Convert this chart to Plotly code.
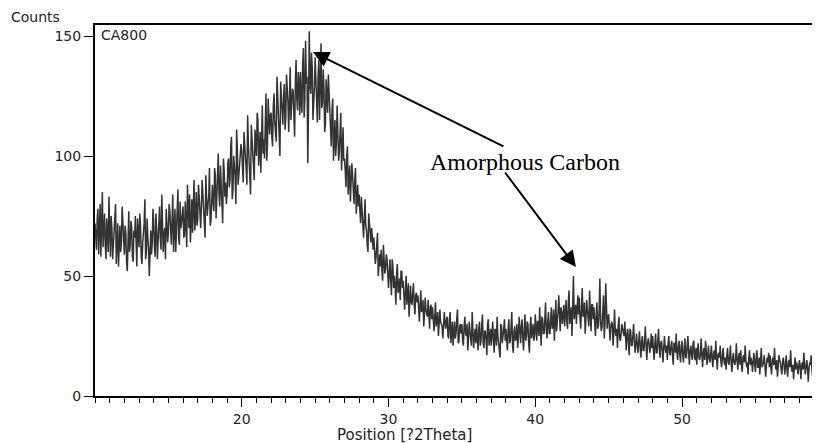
import plotly.graph_objects as go

# ---- data ----
# counts at 10.0, 10.1, 10.2, ... (step 0.1 deg)
x_start = 10.0
x_step = 0.1
counts = [
    72, 61, 78, 66, 58, 85, 70, 63, 74, 60,
    69, 75, 57, 66, 80, 62, 54, 71, 64, 73,
    59, 68, 52, 77, 63, 70, 56, 66, 61, 74,
    62, 71, 55, 68, 82, 60, 66, 50, 69, 64,
    73, 58, 70, 64, 79, 61, 75, 67, 57, 72,
    68, 77, 63, 84, 70, 60, 75, 66, 81, 72,
    79, 67, 73, 88, 70, 64, 82, 76, 69, 85,
    74, 83, 70, 90, 78, 66, 86, 80, 95, 73,
    88, 77, 92, 82, 101, 79, 86, 72, 94, 89,
    84, 99, 90, 108, 86, 95, 80, 103, 92, 98,
    102, 89, 106, 95, 117, 99, 84, 108, 97, 111,
    100, 115, 104, 93, 121, 107, 112, 98, 124, 109,
    118, 104, 126, 110, 133, 115, 100, 122, 113, 130,
    116, 129, 110, 137, 121, 127, 108, 140, 119, 131,
    135, 118, 145, 124, 130, 97, 152, 126, 137, 120,
    141, 125, 133, 115, 147, 122, 129, 113, 124, 134,
    118, 104, 124, 110, 100, 121, 98, 108, 94, 112,
    99, 87, 104, 93, 81, 97, 86, 90, 76, 88,
    84, 72, 78, 66, 82, 69, 60, 73, 64, 67,
    66, 55, 63, 50, 59, 61, 48, 56, 53, 57,
    45, 57, 42, 54, 50, 38, 55, 44, 40, 52,
    48, 36, 50, 41, 33, 46, 38, 47, 34, 43,
    42, 31, 44, 36, 29, 41, 33, 40, 28, 38,
    37, 27, 39, 31, 25, 36, 29, 24, 35, 28,
    33, 24, 35, 27, 21, 31, 26, 36, 23, 30,
    30, 21, 33, 25, 19, 31, 24, 35, 20, 28,
    30, 19, 31, 23, 34, 20, 27, 17, 32, 24,
    21, 31, 18, 27, 33, 22, 16, 29, 24, 32,
    28, 19, 32, 23, 35, 18, 29, 24, 20, 33,
    22, 32, 19, 34, 25, 30, 18, 33, 27, 23,
    34, 23, 31, 37, 21, 32, 26, 39, 24, 35,
    26, 37, 29, 23, 40, 30, 42, 27, 35, 38,
    29, 40, 28, 44, 33, 25, 50, 37, 30, 42,
    41, 28, 45, 34, 26, 40, 31, 44, 27, 38,
    37, 25, 39, 29, 49, 27, 35, 24, 47, 28,
    34, 23, 31, 21, 36, 25, 20, 33, 23, 30,
    27, 31, 19, 28, 17, 27, 21, 30, 18, 26,
    18, 27, 16, 25, 19, 29, 15, 24, 18, 26,
    25, 15, 26, 18, 28, 16, 23, 14, 25, 18,
    15, 25, 17, 23, 13, 22, 26, 15, 23, 14,
    23, 14, 24, 16, 25, 13, 21, 15, 23, 15,
    13, 22, 15, 24, 12, 20, 23, 13, 21, 14,
    21, 12, 19, 23, 11, 18, 21, 12, 20, 13,
    11, 20, 13, 21, 10, 18, 13, 22, 11, 18,
    19, 10, 17, 21, 12, 9, 19, 16, 10, 18,
    10, 19, 12, 9, 20, 13, 17, 8, 16, 18,
    17, 9, 16, 20, 11, 8, 17, 14, 9, 16,
    9, 17, 8, 15, 19, 10, 7, 16, 14, 9,
    15, 7, 14, 18, 9, 15, 6, 14, 17, 8,
    14, 17, 7, 15, 9,
]
# counts at 10.05, 10.15, 10.25, ... (the in-between readings)
counts_mid = [
    65, 74, 59, 80, 67, 62, 76, 57, 69, 83,
    58, 70, 63, 77, 55, 72, 66, 60, 79, 62,
    71, 56, 64, 60, 73, 58, 69, 75, 54, 67,
    76, 58, 64, 72, 57, 74, 61, 68, 59, 78,
    62, 76, 57, 71, 66, 84, 60, 70, 78, 64,
    80, 65, 73, 60, 78, 68, 86, 63, 70, 77,
    66, 81, 62, 75, 84, 72, 68, 90, 74, 71,
    88, 72, 79, 84, 70, 92, 75, 83, 71, 87,
    81, 95, 74, 90, 84, 96, 78, 99, 83, 80,
    97, 87, 104, 82, 100, 91, 111, 88, 96, 105,
    94, 110, 100, 88, 105, 93, 113, 102, 90, 104,
    118, 96, 110, 116, 101, 99, 126, 104, 114, 117,
    108, 121, 114, 106, 124, 109, 131, 117, 125, 111,
    134, 122, 126, 115, 128, 113, 130, 124, 135, 117,
    122, 138, 116, 148, 133, 121, 130, 143, 115, 129,
    130, 114, 140, 126, 120, 136, 110, 132, 118, 128,
    112, 119, 98, 115, 106, 111, 102, 118, 100, 98,
    94, 100, 84, 96, 88, 92, 80, 95, 84, 79,
    77, 83, 70, 74, 71, 63, 76, 67, 70, 61,
    61, 58, 68, 56, 54, 52, 63, 51, 59, 49,
    52, 48, 57, 45, 46, 51, 43, 49, 52, 45,
    42, 44, 38, 47, 40, 39, 43, 38, 42, 39,
    37, 38, 35, 40, 34, 36, 33, 35, 37, 32,
    32, 33, 29, 35, 30, 31, 29, 35, 30, 32,
    25, 32, 22, 31, 28, 24, 32, 22, 29, 26,
    23, 29, 26, 30, 24, 27, 21, 28, 25, 22,
    24, 28, 21, 29, 22, 27, 23, 30, 21, 28,
    27, 23, 28, 21, 25, 20, 30, 22, 28, 23,
    23, 28, 22, 29, 21, 27, 23, 30, 25, 28,
    29, 24, 28, 23, 31, 22, 29, 24, 30, 25,
    26, 31, 25, 29, 33, 26, 32, 27, 31, 26,
    32, 28, 36, 31, 27, 35, 29, 37, 30, 38,
    37, 31, 39, 30, 37, 40, 32, 38, 42, 34,
    32, 37, 33, 39, 32, 36, 29, 35, 38, 32,
    30, 34, 28, 35, 31, 29, 42, 30, 28, 33,
    28, 29, 30, 26, 27, 28, 29, 24, 26, 28,
    25, 22, 26, 22, 28, 21, 25, 23, 22, 21,
    23, 20, 23, 19, 23, 21, 22, 22, 20, 20,
    19, 22, 18, 23, 20, 22, 19, 20, 20, 21,
    22, 18, 21, 17, 22, 18, 18, 21, 17, 21,
    17, 20, 16, 21, 18, 19, 17, 22, 16, 20,
    19, 16, 17, 18, 18, 15, 19, 16, 16, 17,
    15, 18, 15, 16, 17, 16, 14, 17, 15, 16,
    17, 14, 17, 13, 16, 14, 15, 15, 16, 13,
    13, 16, 14, 15, 14, 16, 13, 14, 15, 13,
    16, 12, 16, 15, 12, 14, 13, 13, 14, 12,
    12, 15, 13, 13, 15, 12, 15, 11, 14, 13,
    13, 11, 14, 12, 12, 13, 12, 11, 13, 12,
    12, 13, 11, 13, 12, 12, 11, 13, 11, 12,
    10, 12, 11, 12,
]

positions, values = [], []
for i, c in enumerate(counts):
    positions.append(round(x_start + i * x_step, 3))
    values.append(c)
    if i < len(counts_mid):
        positions.append(round(x_start + i * x_step + x_step / 2, 3))
        values.append(counts_mid[i])

x_ticks = [20, 30, 40, 50]
y_ticks = [0, 50, 100, 150]
sample_label = "CA800"
note_text = "Amorphous Carbon"
peak1 = (24.85, 143.3)
peak2 = (42.77, 53.75)

axis_font = dict(family="DejaVu Sans", size=14, color="#222")

fig = go.Figure()
fig.add_trace(go.Scatter(
    x=positions, y=values, mode="lines",
    line=dict(color="#333333", width=1.5),
    showlegend=False, hoverinfo="skip",
))

# page body has an 8px margin, so the figure is shifted by 8px
fig.update_layout(
    width=820, height=443,
    margin=dict(l=87, r=8, t=17, b=55),
    paper_bgcolor="white", plot_bgcolor="white",
    xaxis=dict(
        range=[10.0, 59.4], tickvals=x_ticks, ticks="outside", ticklen=9,
        tickwidth=1, tickcolor="black", showline=True, linecolor="black",
        linewidth=2, mirror=True, showgrid=False, zeroline=False,
        tickfont=axis_font,
        minor=dict(dtick=1, ticks="outside", ticklen=5, tickcolor="black", showgrid=False),
    ),
    yaxis=dict(
        range=[0, 154.6], tickvals=y_ticks, ticks="outside", ticklen=9,
        tickwidth=1, tickcolor="black", showline=True, linecolor="black",
        linewidth=2, mirror=False, showgrid=False, zeroline=False,
        tickfont=axis_font,
    ),
)

fig.add_annotation(text="Counts", xref="paper", yref="paper", x=-0.118, y=1.0,
                   xanchor="left", yanchor="middle", showarrow=False,
                   font=dict(family="DejaVu Sans", size=14, color="#222"), yshift=8)
fig.add_annotation(text="Position [?2Theta]", xref="paper", yref="paper",
                   x=(404 - 95) / 725, y=0, xanchor="center", yanchor="top",
                   yshift=-28, showarrow=False,
                   font=dict(family="DejaVu Sans", size=15, color="#222"))
fig.add_annotation(text=sample_label, xref="paper", yref="paper", x=0.005, y=1.0,
                   xanchor="left", yanchor="top", showarrow=False, font=axis_font)
fig.add_annotation(text=note_text, xref="paper", yref="paper",
                   x=(525 - 95) / 725, y=(396 - 162) / 371, xanchor="center", yanchor="middle",
                   showarrow=False, font=dict(family="Liberation Serif", size=24, color="black"))
fig.add_annotation(x=peak1[0], y=peak1[1], xref="x", yref="y", ax=192, ay=95,
                   text="", showarrow=True, arrowhead=2, arrowsize=1.6, arrowwidth=2,
                   arrowcolor="black")
fig.add_annotation(x=peak2[0], y=peak2[1], xref="x", yref="y", ax=-72, ay=-96,
                   text="", showarrow=True, arrowhead=2, arrowsize=1.6, arrowwidth=2,
                   arrowcolor="black")

fig.write_html("out.html")
